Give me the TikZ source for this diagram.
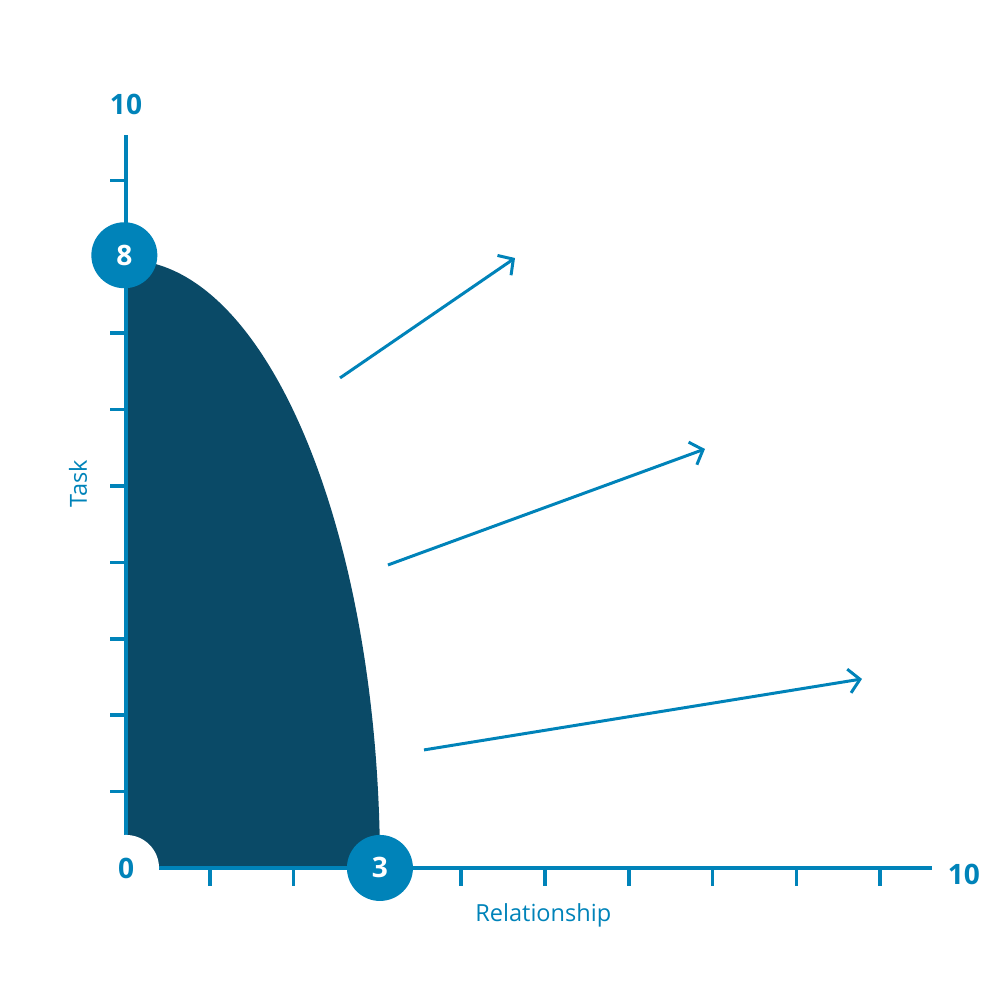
\documentclass[tikz,border=0pt]{standalone}
\usepackage{fontspec}
\setmainfont{Open Sans}
\usetikzlibrary{arrows.meta,positioning}
\definecolor{axisblue}{HTML}{0083B9}
\definecolor{deepteal}{HTML}{0A4A67}
\tikzset{
    axisline/.style={draw=axisblue,line width=1pt},
    tickmark/.style={draw=axisblue,line width=1pt},
    valuedot/.style={circle,fill=axisblue,minimum size=6.6mm,inner sep=0pt,
      text=white,font=\bfseries\fontsize{8}{9}\selectfont},
    origindot/.style={circle,fill=white,minimum size=6.6mm,inner sep=0pt,
      text=axisblue,font=\bfseries\fontsize{8}{9}\selectfont},
    axisvalue/.style={text=axisblue,inner sep=0pt,font=\bfseries\fontsize{8}{9}\selectfont},
    axisname/.style={text=axisblue,inner sep=0pt,font=\fontsize{6.7}{8}\selectfont},
    growarrow/.style={draw=axisblue,line width=0.85pt,
      -{Straight Barb[length=1.1mm,width=2.4mm]}}
}
\begin{document}
\begin{tikzpicture}[x=0.838cm,y=0.764cm]
  \useasboundingbox (-1.504,-1.728) rectangle (10.430,11.361);
  % style region
  \fill[deepteal] (0,0) -- +(0,6.08cm) arc[start angle=90,end angle=0,x radius=2.54cm,y radius=6.08cm] -- cycle;
  % axes and ticks
  \draw[axisline] (0,0) -- (0,9.594);
  \draw[axisline] (0,0) -- (9.618,0);
  \foreach \v in {1,...,9}{
    \draw[tickmark] (0,\v) -- ++(-0.16cm,0);
    \draw[tickmark] (\v,0) -- ++(0,-0.18cm);
  }
  \node[axisvalue] (ytop) at (0,10) {10};
  \node[axisvalue] (xend) at (10,-0.08) {10};
  \node[valuedot] (eight) at (-0.02,8.02) {8};
  \node[valuedot] (three) at (3.03,0) {3};
  \node[origindot] (zero) at (0,0) {0};
  \node[axisname,rotate=90] (task) at (-0.573,5.03) {Task};
  \node[axisname] (rel) at (4.98,-0.615) {Relationship};
  % growth arrows
  \coordinate (a1s) at (2.554,6.414);
  \coordinate (a1e) at (4.642,7.984);
  \coordinate (a2s) at (3.126,3.966);
  \coordinate (a2e) at (6.909,5.484);
  \coordinate (a3s) at (3.556,1.545);
  \coordinate (a3e) at (8.783,2.474);
  \draw[growarrow] (a1s) -- (a1e);
  \draw[growarrow] (a2s) -- (a2e);
  \draw[growarrow] (a3s) -- (a3e);
\end{tikzpicture}
\end{document}
